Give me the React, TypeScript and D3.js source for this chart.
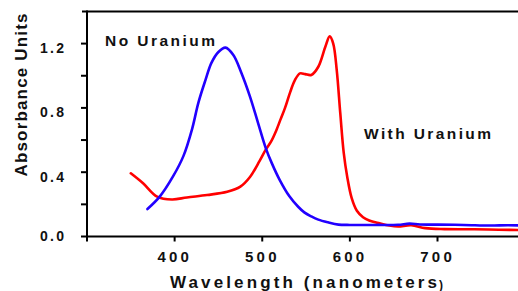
import React from "react";
import * as d3 from "d3";

const noUraniumNm = [369, 383, 398, 410, 420, 427, 435, 442, 450, 458, 467, 476, 486, 495, 504, 511, 520, 531, 541, 548, 556, 564, 575, 587, 600, 630, 655, 668, 680, 700, 730, 760, 780, 800];
const noUraniumAbs = [0.171, 0.248, 0.372, 0.5, 0.67, 0.83, 0.97, 1.08, 1.148, 1.175, 1.129, 1.02, 0.87, 0.71, 0.55, 0.455, 0.351, 0.25, 0.185, 0.15, 0.125, 0.105, 0.088, 0.074, 0.072, 0.072, 0.073, 0.08, 0.075, 0.074, 0.072, 0.068, 0.07, 0.068];

const withUraniumNm = [350, 364, 380, 397, 414, 437, 460, 475, 486, 497, 504, 510, 516, 521, 526, 532, 537, 543, 549, 556, 564, 572, 577, 581, 585, 589, 593, 597, 602, 608, 615, 622, 634, 645, 655, 670, 686, 708, 742, 770, 800];
const withUraniumAbs = [0.393, 0.331, 0.248, 0.23, 0.243, 0.258, 0.278, 0.31, 0.37, 0.47, 0.54, 0.59, 0.66, 0.73, 0.8, 0.9, 0.97, 1.015, 1.01, 1.005, 1.056, 1.18, 1.245, 1.2, 1.035, 0.77, 0.52, 0.37, 0.24, 0.16, 0.12, 0.1, 0.082, 0.068, 0.062, 0.07, 0.052, 0.046, 0.045, 0.042, 0.04];

const xTicks = [300, 400, 500, 600, 700, 800];
const xTickLabels = ["", "400", "500", "600", "700", ""];
const yTicks = [0, 0.2, 0.4, 0.6, 0.8, 1.0, 1.2];
const yTickLabels = ["0.0", "", "0.4", "", "0.8", "", "1.2"];

const W = 518;
const H = 291;

export default function App() {
  const x = d3.scaleLinear().domain([300, 700]).range([87, 437.5]);
  const y = d3.scaleLinear().domain([0, 1.2]).range([236.5, 43.6]);

  const line = d3
    .line<[number, number]>()
    .x((d) => x(d[0]))
    .y((d) => y(d[1]))
    .curve(d3.curveCatmullRom.alpha(0.5));

  const blue: [number, number][] = noUraniumNm.map((n, i) => [n, noUraniumAbs[i]]);
  const red: [number, number][] = withUraniumNm.map((n, i) => [n, withUraniumAbs[i]]);

  const font = "'Liberation Sans', Arial, sans-serif";
  const axisY = y(0);
  const axisX = x(300);
  const topY = y(1.4);

  return (
    <svg width={W} height={H} style={{ position: "absolute", left: 0, top: 0, background: "#fff" }} fontFamily={font}>
      <defs>
        <clipPath id="plotClip">
          <rect x={axisX} y={topY} width={W - axisX} height={axisY - topY} />
        </clipPath>
      </defs>
      <rect x={0} y={0} width={W} height={H} fill="#fff" />
      <g clipPath="url(#plotClip)" fill="none" strokeWidth={2.6} strokeLinejoin="round" strokeLinecap="round">
        <path d={line(red) || ""} stroke="#ff0000" />
        <path d={line(blue) || ""} stroke="#2200ff" />
      </g>
      <line x1={82} x2={W} y1={topY} y2={topY} stroke="#000" strokeWidth={2} />
      <line x1={axisX} x2={axisX} y1={topY - 1} y2={axisY + 1} stroke="#000" strokeWidth={2} />
      <line x1={axisX} x2={W} y1={axisY} y2={axisY} stroke="#000" strokeWidth={2} />
      {yTicks.map((t, i) => (
        <g key={"y" + i}>
          <line x1={axisX - 6} x2={axisX} y1={y(t)} y2={y(t)} stroke="#000" strokeWidth={2} />
          {yTickLabels[i] && (
            <text
              x={64}
              y={t === 0 ? y(t) + 4 : y(t) + 9.5}
              textAnchor="end"
              fontSize={14}
              fontWeight="bold"
              textLength={24}
              lengthAdjust="spacing"
              fill="#111"
            >
              {yTickLabels[i]}
            </text>
          )}
        </g>
      ))}
      {xTicks.map((t, i) => (
        <g key={"x" + i}>
          <line x1={x(t)} x2={x(t)} y1={axisY} y2={axisY + 5} stroke="#000" strokeWidth={2} />
          {xTickLabels[i] && (
            <text
              x={x(t) - 1.5}
              y={261.5}
              textAnchor="middle"
              fontSize={15}
              fontWeight="bold"
              textLength={31.5}
              lengthAdjust="spacing"
              fill="#111"
            >
              {xTickLabels[i]}
            </text>
          )}
        </g>
      ))}
      <text
        transform={`translate(27,${95}) rotate(-90)`}
        textAnchor="middle"
        fontSize={17}
        fontWeight="bold"
        textLength={163}
        lengthAdjust="spacing"
        fill="#111"
      >
        Absorbance Units
      </text>
      <text x={170} y={287.5} fontSize={17} fontWeight="bold" textLength={267} lengthAdjust="spacing" fill="#111">
        Wavelength (nanometers
      </text>
      <text x={439} y={289} fontSize={12} fontWeight="bold" fill="#111">
        )
      </text>
      <text x={105} y={45.7} fontSize={15.5} fontWeight="bold" textLength={110} lengthAdjust="spacing" fill="#111">
        No Uranium
      </text>
      <text x={364} y={139.3} fontSize={15.5} fontWeight="bold" textLength={127} lengthAdjust="spacing" fill="#111">
        With Uranium
      </text>
    </svg>
  );
}
